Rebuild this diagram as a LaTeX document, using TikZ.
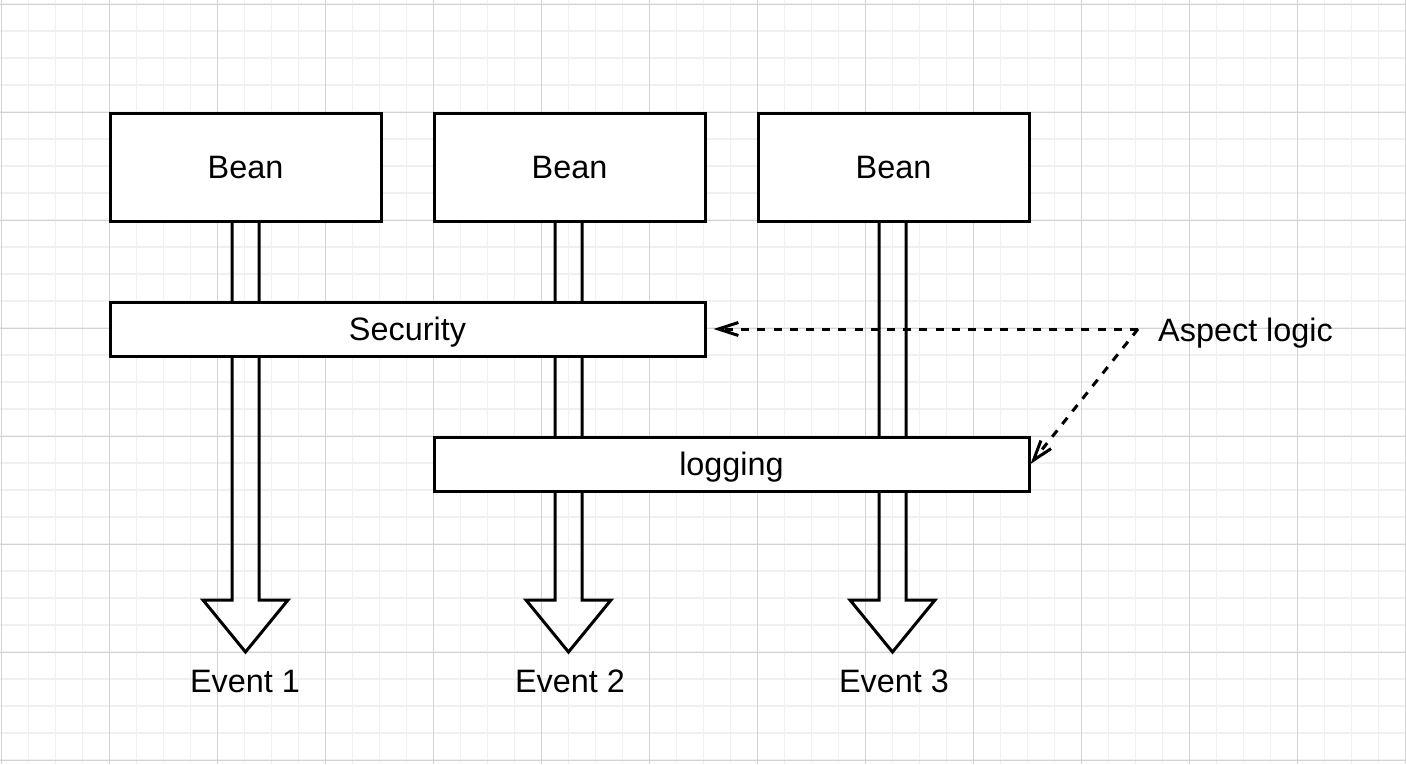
\documentclass[tikz,border=0pt]{standalone}
\usepackage{fontspec}
\setmainfont{Liberation Sans}
\usetikzlibrary{arrows.meta,calc}
\definecolor{gridminor}{HTML}{F0F0F0}
\definecolor{gridmajor}{HTML}{D3D3D3}
\tikzset{
  lbl/.style={font=\fontsize{32.4}{38}\selectfont, text height=23.2pt, text depth=0pt, inner sep=0pt},
  beanbox/.style={lbl, draw=black, line width=3pt, fill=white, minimum width=271pt, minimum height=108pt},
  barbox/.style={lbl, draw=black, line width=3pt, fill=white, minimum width=595pt, minimum height=54pt},
  flow/.style={draw=black, line width=3pt, line join=miter},
  aspectarrow/.style={draw=black, line width=3pt, dash pattern=on 8.1pt off 8.1pt,
    -{Straight Barb[length=20pt,width=13pt,line width=3pt]}}
}
\begin{document}
\begin{tikzpicture}[x=1pt,y=-1pt]
\useasboundingbox (0,0) rectangle (1406,764);
\fill[white] (0,0) rectangle (1406,764);
% grid
\foreach \i in {0,...,52} {
  \draw[gridminor, line width=1.5pt] (1.3+27*\i,0) -- (1.3+27*\i,764);
}
\foreach \j in {0,...,28} {
  \draw[gridminor, line width=1.5pt] (0,4+27*\j) -- (1406,4+27*\j);
}
\foreach \i in {0,...,13} {
  \draw[gridmajor, line width=1pt] (1.3+108*\i,0) -- (1.3+108*\i,764);
}
\foreach \j in {0,...,7} {
  \draw[gridmajor, line width=1pt] (0,4+108*\j) -- (1406,4+108*\j);
}
% bean box centres
\coordinate (c1) at (245.5,167);
\coordinate (c2) at (568.5,167);
\coordinate (c3) at (892.5,167);
% hollow arrows
\foreach \c in {c1,c2,c3} {
  \draw[flow] ($(\c)+(-13.5,55)$) -- ($(\c)+(-13.5,433)$) -- ($(\c)+(-42.5,433)$)
     -- ($(\c)+(0,485)$) -- ($(\c)+(42.5,433)$) -- ($(\c)+(13.5,433)$)
     -- ($(\c)+(13.5,55)$);
}
\node[beanbox] (bean1) at (245.5,167) {Bean};
\node[beanbox] (bean2) at (569.5,167) {Bean};
\node[beanbox] (bean3) at (893.5,167) {Bean};
\node[barbox] (sec) at (407.5,329) {Security};
\node[barbox] (log) at (731.5,464) {logging};
% event labels
\node[lbl] (ev1) at (245,681) {Event 1};
\node[lbl] (ev2) at (570,681) {Event 2};
\node[lbl] (ev3) at (894,681) {Event 3};
% aspect logic
\node[lbl, anchor=west] (aspect) at (1158,330) {Aspect logic};
\coordinate (src) at (1138,329);
\coordinate (sectip) at ($(sec.east)+(7,0)$);
\draw[aspectarrow] (src) -- (sectip);
\draw[aspectarrow] (src) -- (log.east);
\end{tikzpicture}
\end{document}
